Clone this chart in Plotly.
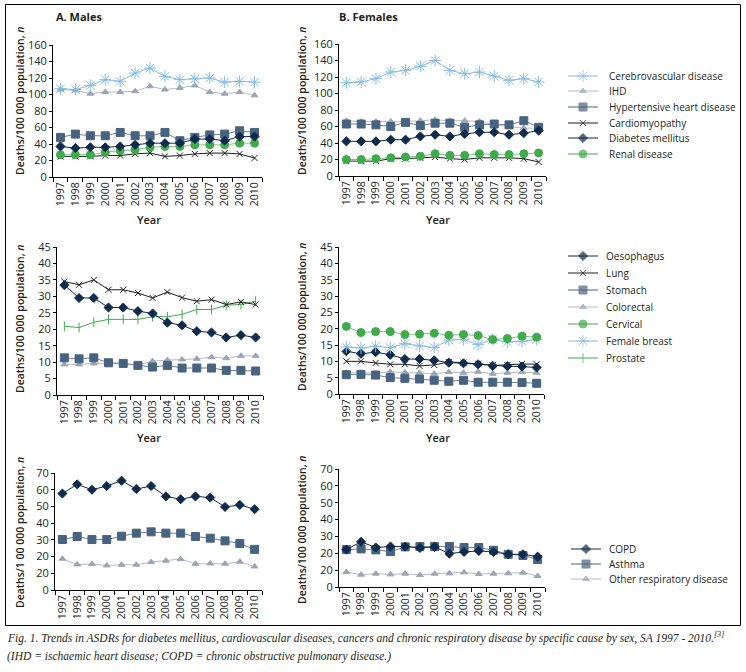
import plotly.graph_objects as go

W, H = 746, 672

years = ["1997", "1998", "1999", "2000", "2001", "2002", "2003",
         "2004", "2005", "2006", "2007", "2008", "2009", "2010"]

# ---- A. Males: cardiovascular, diabetes, renal ----
m_cerebro = [107, 106, 111, 118, 116, 126, 132, 122, 118, 119, 120, 115, 116, 115]
m_ihd = [106, 105, 101, 103, 103, 104, 110, 106, 108, 111, 103, 101, 103, 99]
m_hyper = [48, 52, 50, 50, 54, 50, 50, 54, 44, 48, 51, 52, 56, 54]
m_cardio = [25, 25, 25, 26, 26, 28, 29, 25, 26, 28, 29, 29, 28, 23]
m_diab = [37, 35, 36, 36, 37, 39, 41, 41, 41, 46, 46, 44, 49, 49]
m_renal = [27, 27, 27, 30, 32, 33, 36, 37, 37, 39, 39, 39, 41, 41]

# ---- B. Females: cardiovascular, diabetes, renal ----
f_cerebro = [113, 114, 118, 126, 128, 133, 140, 128, 124, 126, 121, 116, 118, 114]
f_ihd = [67, 66, 66, 66, 66, 67, 68, 67, 67, 66, 62, 60, 58, 58]
f_hyper = [63, 63, 62, 60, 65, 61, 64, 64, 59, 62, 63, 62, 67, 59]
f_cardio = [18, 18, 18, 21, 21, 22, 23, 21, 20, 22, 22, 22, 21, 17]
f_diab = [42, 42, 42, 44, 44, 48, 50, 48, 51, 53, 53, 50, 52, 55]
f_renal = [20, 20, 21, 22, 23, 24, 27, 25, 25, 27, 26, 26, 27, 28]

# ---- Males: cancers ----
m_oeso = [33.4, 29.5, 29.5, 26.6, 26.6, 25.5, 24.8, 22.0, 21.2, 19.4, 19.0, 17.5, 18.2, 17.5]
m_lung = [34.5, 33.5, 35.0, 32.0, 32.0, 31.0, 29.5, 31.3, 29.6, 28.5, 29.0, 27.5, 28.3, 27.5]
m_stomach = [11.3, 11.0, 11.3, 9.8, 9.6, 9.0, 8.5, 9.0, 8.2, 8.2, 8.2, 7.5, 7.5, 7.3]
m_colo = [9.3, 9.3, 9.6, 9.6, 9.5, 9.1, 10.3, 10.6, 10.8, 11.0, 11.5, 11.2, 11.9, 11.9]
m_prostate = [20.9, 20.5, 22.1, 23.0, 23.0, 23.0, 23.8, 23.8, 24.5, 26.0, 26.0, 27.3, 27.5, 28.5]

# ---- Females: cancers ----
f_oeso = [13.1, 12.3, 12.8, 12.0, 10.7, 10.7, 10.3, 9.6, 9.4, 9.1, 8.6, 8.5, 8.4, 8.1]
f_lung = [10.0, 10.0, 9.5, 9.1, 9.1, 8.6, 8.9, 9.8, 9.6, 9.3, 8.8, 8.9, 9.2, 9.1]
f_stomach = [5.9, 6.0, 5.8, 5.0, 4.8, 4.6, 4.2, 3.9, 4.2, 3.6, 3.6, 3.6, 3.5, 3.3]
f_colo = [6.5, 6.5, 6.4, 6.8, 6.6, 6.5, 6.2, 6.7, 6.5, 6.8, 6.2, 6.5, 6.7, 6.5]
f_cervical = [20.7, 18.8, 19.1, 19.1, 18.2, 18.3, 18.6, 18.0, 18.2, 17.9, 16.7, 17.0, 17.7, 17.4]
f_breast = [14.4, 14.1, 14.6, 14.2, 15.4, 14.7, 14.2, 16.5, 16.7, 15.1, 16.7, 15.9, 16.1, 16.7]

# ---- Males: chronic respiratory ----
m_copd = [57.7, 63.2, 60.0, 62.2, 65.4, 60.4, 62.2, 56.0, 54.3, 56.0, 55.3, 49.7, 50.9, 48.3]
m_asthma = [30.2, 32.0, 30.2, 30.2, 32.2, 34.0, 34.8, 34.0, 34.0, 32.0, 31.0, 29.4, 27.8, 24.3]
m_other = [18.7, 15.3, 15.5, 14.7, 15.1, 15.1, 16.7, 17.5, 18.5, 15.7, 15.9, 15.7, 16.9, 14.1]

# ---- Females: chronic respiratory ----
f_copd = [22.2, 26.8, 23.4, 24.0, 24.0, 23.2, 23.8, 19.8, 20.8, 21.4, 20.8, 19.4, 19.4, 18.0]
f_asthma = [22.2, 22.6, 22.0, 21.0, 23.8, 24.0, 24.0, 24.0, 23.4, 23.4, 21.8, 19.4, 18.7, 16.3]
f_other = [8.9, 7.3, 7.9, 7.5, 7.9, 7.1, 7.9, 8.1, 8.7, 7.7, 7.9, 8.1, 8.5, 6.5]

# y tick labels (the printed figure labels the 10 tick of the respiratory panels as "20")
ticks_cvd = [0, 20, 40, 60, 80, 100, 120, 140, 160]
ticks_cancer = [0, 5, 10, 15, 20, 25, 30, 35, 40, 45]
ticks_resp = [0, 10, 20, 30, 40, 50, 60, 70]
ticktext_resp = ["0", "20", "20", "30", "40", "50", "60", "70"]

# ---------------- styles ----------------
NAVY = "#0f2b4c"
SLATE = "#48637f"
GREY = "#9aa6b5"
LBLUE = "#86bbe2"
GREEN = "#3fab4a"
BLACK = "#1e1e1e"

STY = {
    "asterisk": dict(symbol="asterisk-open", size=10, color=LBLUE, lc=LBLUE),
    "tri": dict(symbol="triangle-up", size=6, color=GREY, lc="#b3bcc7"),
    "sq": dict(symbol="square", size=8, color=SLATE, lc="#6f8296"),
    "x": dict(symbol="x-thin-open", size=6, color=BLACK, lc=BLACK),
    "dia": dict(symbol="diamond", size=7, color=NAVY, lc=NAVY),
    "circ": dict(symbol="circle", size=8, color=GREEN, lc="#7cc784"),
    "plus": dict(symbol="line-ns-open", size=7, color=GREEN, lc=GREEN),
}

FONT = "Open Sans"
TXT = "#231f20"

panels = [
    dict(x=(53, 262), y=(45, 177), ymax=160, tv=ticks_cvd, tt=None,
         series=[("IHD", m_ihd, "tri"), ("Cerebrovascular disease", m_cerebro, "asterisk"),
                 ("Hypertensive heart disease", m_hyper, "sq"), ("Cardiomyopathy", m_cardio, "x"),
                 ("Renal disease", m_renal, "circ"), ("Diabetes mellitus", m_diab, "dia")]),
    dict(x=(339, 546), y=(44, 176), ymax=160, tv=ticks_cvd, tt=None,
         series=[("IHD", f_ihd, "tri"), ("Cerebrovascular disease", f_cerebro, "asterisk"),
                 ("Hypertensive heart disease", f_hyper, "sq"), ("Cardiomyopathy", f_cardio, "x"),
                 ("Renal disease", f_renal, "circ"), ("Diabetes mellitus", f_diab, "dia")]),
    dict(x=(57, 263), y=(247, 395), ymax=45, tv=ticks_cancer, tt=None,
         series=[("Colorectal", m_colo, "tri"), ("Stomach", m_stomach, "sq"),
                 ("Prostate", m_prostate, "plus"), ("Lung", m_lung, "x"),
                 ("Oesophagus", m_oeso, "dia")]),
    dict(x=(339, 544), y=(247, 394), ymax=45, tv=ticks_cancer, tt=None,
         series=[("Colorectal", f_colo, "tri"), ("Stomach", f_stomach, "sq"),
                 ("Lung", f_lung, "x"), ("Oesophagus", f_oeso, "dia"),
                 ("Female breast", f_breast, "asterisk"), ("Cervical", f_cervical, "circ")]),
    dict(x=(55, 262), y=(473, 590), ymax=70, tv=ticks_resp, tt=ticktext_resp,
         series=[("Other respiratory disease", m_other, "tri"), ("Asthma", m_asthma, "sq"),
                 ("COPD", m_copd, "dia")]),
    dict(x=(339, 545), y=(469, 587), ymax=70, tv=ticks_resp, tt=ticktext_resp,
         series=[("Other respiratory disease", f_other, "tri"), ("Asthma", f_asthma, "sq"),
                 ("COPD", f_copd, "dia")]),
]

fig = go.Figure()
layout = {}

for i, p in enumerate(panels, start=1):
    xa = "x" if i == 1 else f"x{i}"
    ya = "y" if i == 1 else f"y{i}"
    xkey = "xaxis" if i == 1 else f"xaxis{i}"
    ykey = "yaxis" if i == 1 else f"yaxis{i}"
    for name, vals, st in p["series"]:
        s = STY[st]
        fig.add_trace(go.Scatter(
            x=years, y=vals, name=name, mode="lines+markers", showlegend=False,
            xaxis=xa, yaxis=ya,
            line=dict(color=s["lc"], width=1),
            marker=dict(symbol=s["symbol"], size=s["size"], color=s["color"],
                        line=dict(color=s["color"], width=1)),
            cliponaxis=False,
        ))
    layout[xkey] = dict(
        domain=[p["x"][0] / W, p["x"][1] / W], anchor=ya, type="category",
        range=[-0.5, 13.5], showline=True, linecolor="black", linewidth=1,
        ticks="outside", ticklen=4, tickcolor="black", tickson="boundaries",
        tickangle=-90, showgrid=False, zeroline=False, automargin=False,
        tickfont=dict(family=FONT, size=10.5, color=TXT),
    )
    ydict = dict(
        domain=[1 - p["y"][1] / H, 1 - p["y"][0] / H], anchor=xa,
        range=[0, p["ymax"]], showline=True, linecolor="black", linewidth=1,
        ticks="outside", ticklen=3, tickcolor="black", showgrid=False, zeroline=False,
        tickmode="array", tickvals=p["tv"], automargin=False,
        tickfont=dict(family=FONT, size=11, color=TXT),
    )
    if p["tt"] is not None:
        ydict["ticktext"] = p["tt"]
    layout[ykey] = ydict

# -------- legend drawn on a full-page overlay axis (pixel coordinates) --------
legends = [
    dict(x0=568, x1=598, tx=607, ys=[76, 91, 107, 123, 138, 154],
         items=[("Cerebrovascular disease", "asterisk"), ("IHD", "tri"),
                ("Hypertensive heart disease", "sq"), ("Cardiomyopathy", "x"),
                ("Diabetes mellitus", "dia"), ("Renal disease", "circ")]),
    dict(x0=568, x1=598, tx=604, ys=[256, 273, 290, 307, 324, 341, 358],
         items=[("Oesophagus", "dia"), ("Lung", "x"), ("Stomach", "sq"),
                ("Colorectal", "tri"), ("Cervical", "circ"), ("Female breast", "asterisk"),
                ("Prostate", "plus")]),
    dict(x0=571, x1=601, tx=607, ys=[549, 564, 579],
         items=[("COPD", "dia"), ("Asthma", "sq"), ("Other respiratory disease", "tri")]),
]

annotations = []
for lg in legends:
    for (name, st), yy in zip(lg["items"], lg["ys"]):
        s = STY[st]
        xm = (lg["x0"] + lg["x1"]) / 2
        fig.add_trace(go.Scatter(
            x=[lg["x0"], xm, lg["x1"]], y=[yy, yy, yy], mode="lines+markers",
            showlegend=False, xaxis="x7", yaxis="y7", hoverinfo="skip",
            line=dict(color=s["lc"] if st not in ("sq", "circ") else s["color"], width=1),
            marker=dict(symbol=s["symbol"], size=[0, s["size"], 0], color=s["color"],
                        line=dict(color=s["color"], width=1)),
            cliponaxis=False,
        ))
        annotations.append(dict(
            x=lg["tx"], y=yy, xref="x7", yref="y7", text=name, showarrow=False,
            xanchor="left", yanchor="middle",
            font=dict(family=FONT, size=10, color=TXT),
        ))

layout["xaxis7"] = dict(domain=[0, 1], range=[0, W], visible=False, anchor="y7",
                        fixedrange=True, automargin=False)
layout["yaxis7"] = dict(domain=[0, 1], range=[H, 0], visible=False, anchor="x7",
                        fixedrange=True, automargin=False)


def pa(xpx, ypx, text, size=10.5, angle=0, xanchor="center", family=FONT, weight=None):
    f = dict(family=family, size=size, color=TXT)
    if weight:
        f["weight"] = weight
    annotations.append(dict(
        x=xpx / W, y=1 - ypx / H, xref="paper", yref="paper",
        text=text, showarrow=False,
        textangle=angle, xanchor=xanchor, yanchor="middle", font=f,
    ))


ytitle = "Deaths/100 000 population, <i>n</i>"
pa(20, 101, ytitle, size=10.5, angle=-90, weight=600)
pa(302, 101, ytitle, size=10.5, angle=-90, weight=600)
pa(20, 319, ytitle, size=10.5, angle=-90, weight=600)
pa(302, 317, ytitle, size=10.5, angle=-90, weight=600)
pa(20, 533, "Deaths/1 00 000 population, <i>n</i>", size=10.5, angle=-90, weight=600)
pa(302, 530, ytitle, size=10.5, angle=-90, weight=600)

pa(149, 219, "Year", size=11, weight=600)
pa(438, 219, "Year", size=11, weight=600)
pa(149, 437, "Year", size=11, weight=600)
pa(438, 437, "Year", size=11, weight=600)

pa(54, 16, "A. Males", size=11, xanchor="left", weight=700)
pa(337, 16, "B. Females", size=11, xanchor="left", weight=700)

cap1 = ("<i>Fig. 1. Trends in ASDRs for diabetes mellitus, cardiovascular diseases, cancers and chronic "
        "respiratory disease by specific cause by sex, SA 1997 - 2010.</i><sup><i>[3]</i></sup>")
cap2 = "<i>(IHD = ischaemic heart disease; COPD = chronic obstructive pulmonary disease.)</i>"
pa(5, 637, cap1, size=11.5, xanchor="left", family="Liberation Serif")
pa(5, 656, cap2, size=11.5, xanchor="left", family="Liberation Serif")

# outer frame, drawn on the full-page helper axes
shapes = [dict(type="rect", xref="x7", yref="y7",
               x0=5.5, x1=740.5, y0=4.5, y1=625.5,
               line=dict(color="black", width=1), fillcolor="rgba(0,0,0,0)", layer="above")]

fig.update_layout(
    template="none",
    width=W, height=H, margin=dict(l=0, r=0, t=0, b=0, pad=0, autoexpand=False),
    paper_bgcolor="white", plot_bgcolor="rgba(0,0,0,0)",
    annotations=annotations, shapes=shapes, showlegend=False,
    font=dict(family=FONT, color=TXT),
    **layout,
)

fig.write_html(
    "out.html",
    config={"displayModeBar": False},
    post_script="document.body.style.margin='0';document.body.style.padding='0';"
                "document.body.style.overflow='hidden';",
)
